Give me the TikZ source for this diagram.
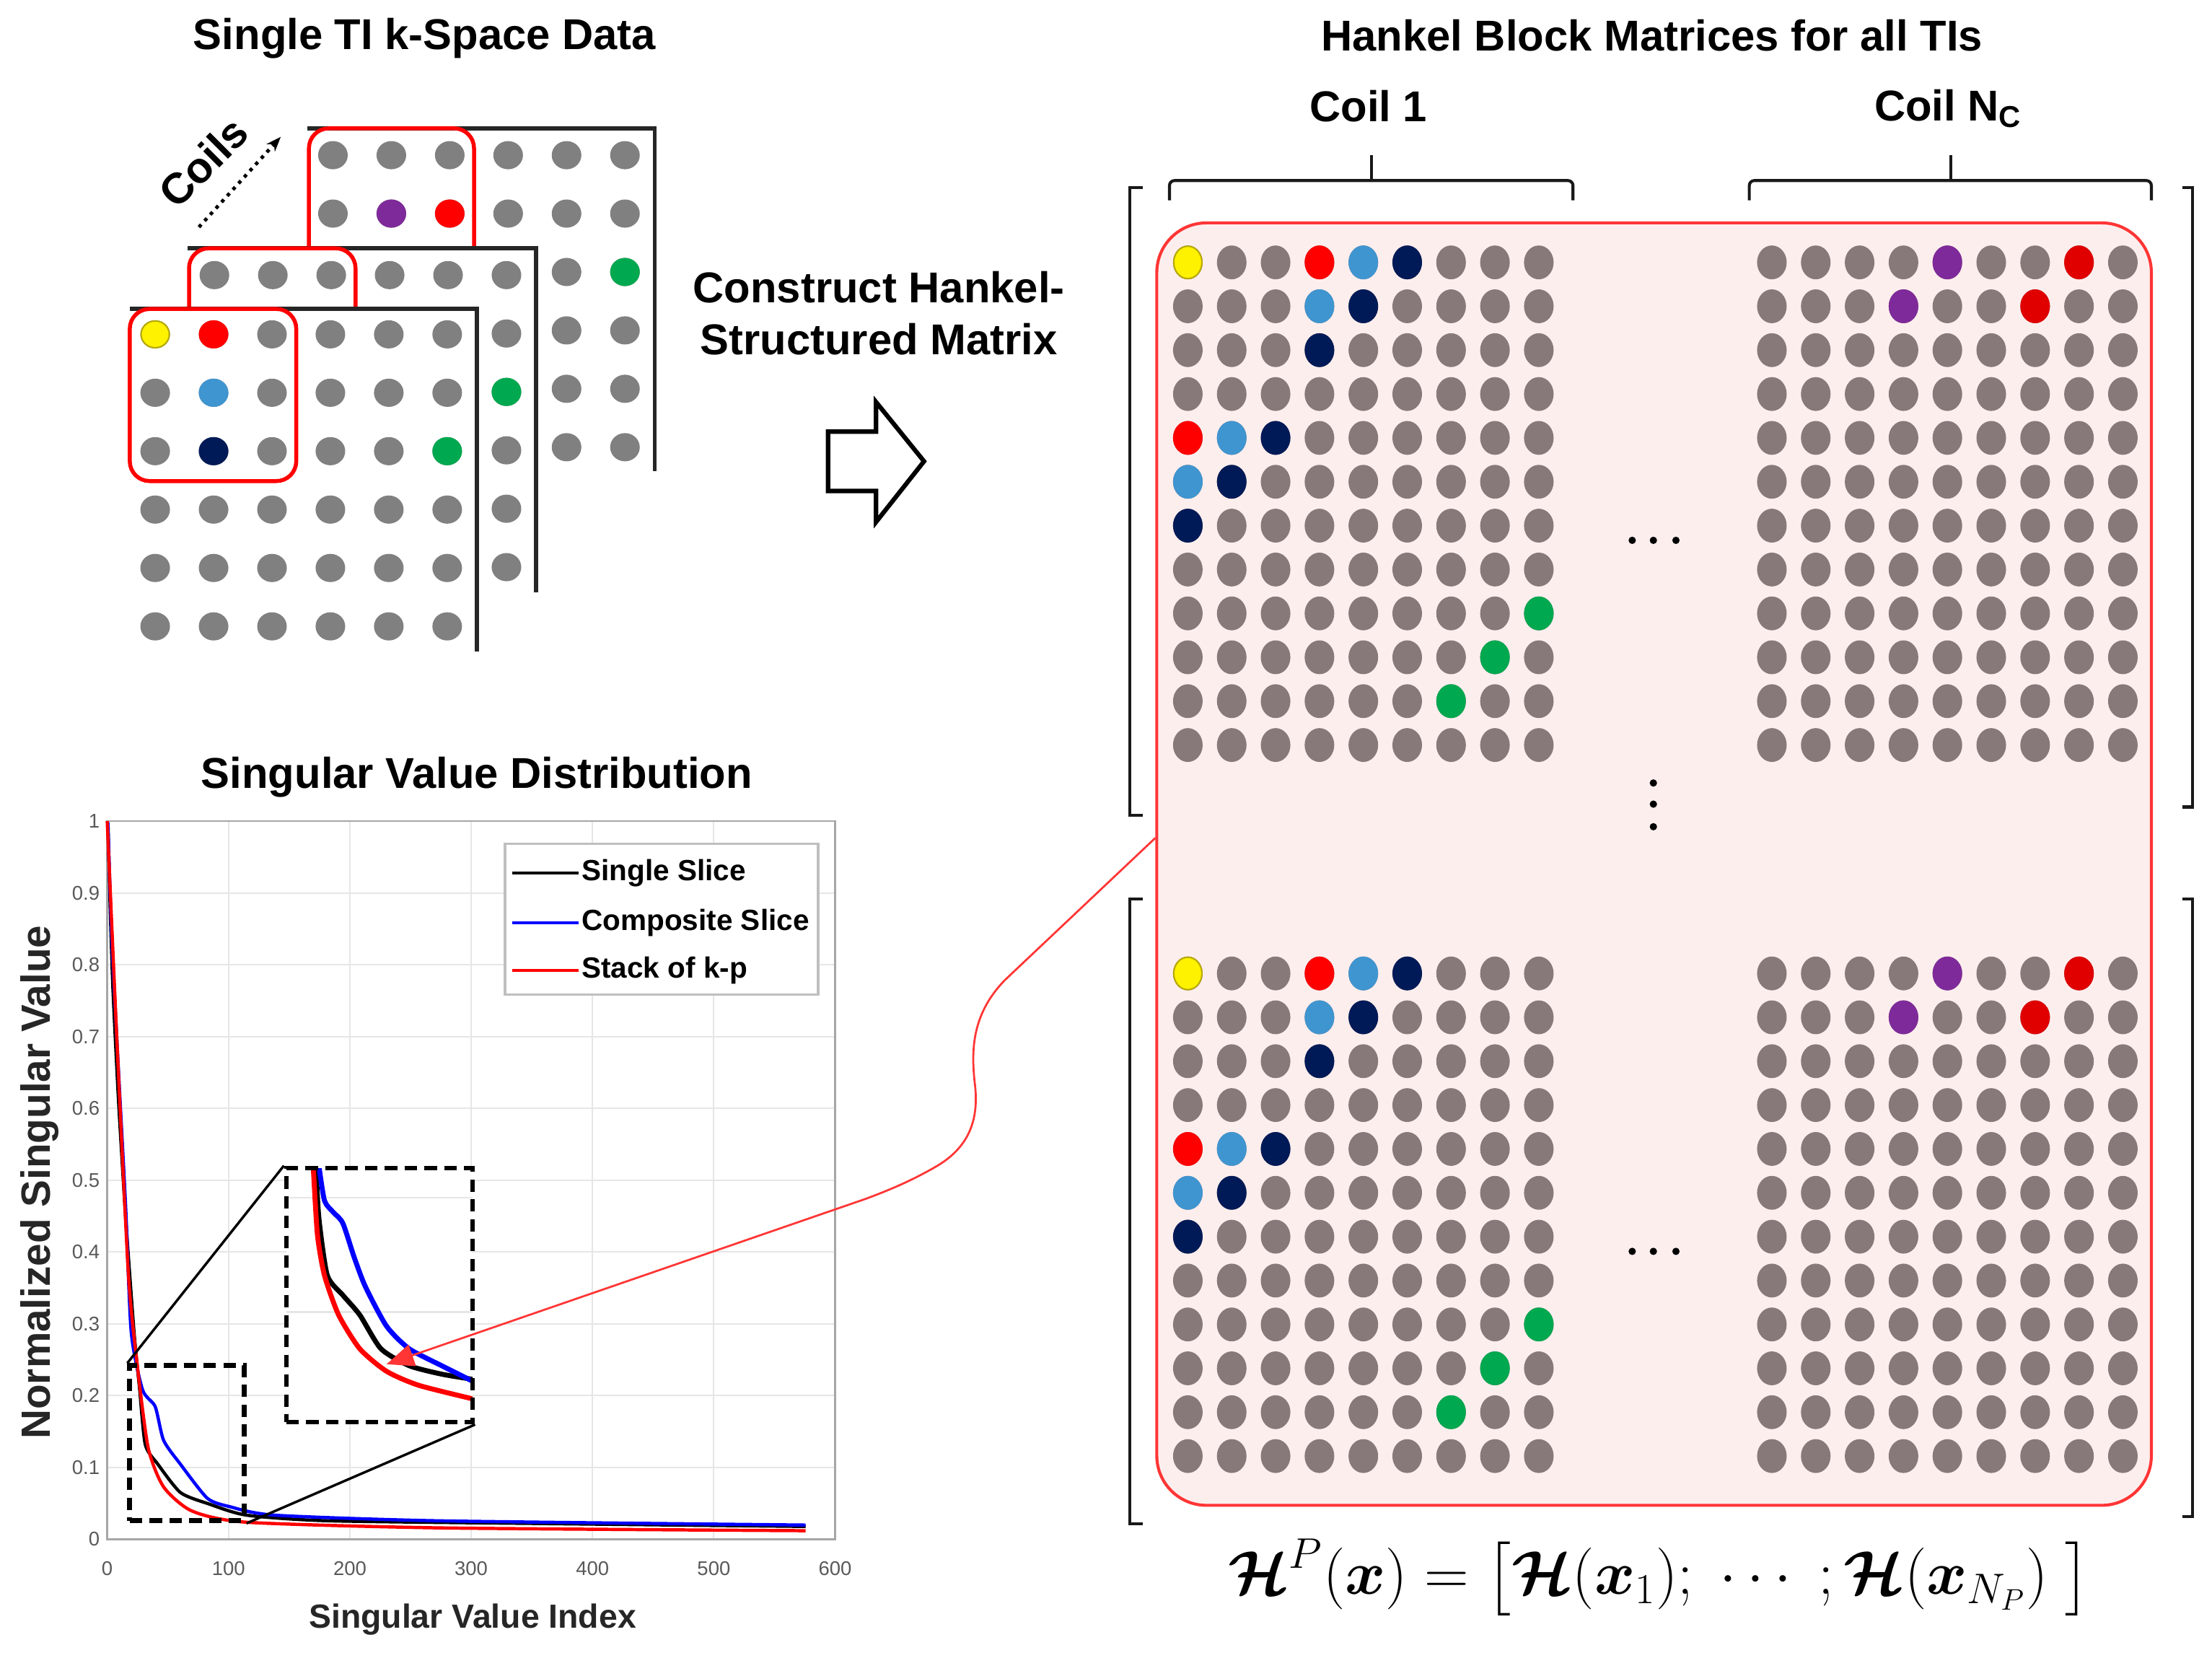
\documentclass[tikz,border=0pt]{standalone}
\usepackage[no-math]{fontspec}
\setmainfont{Liberation Sans}
\usepackage{amsmath,bm}
\usetikzlibrary{arrows.meta,fit}

\definecolor{kgrey}{HTML}{808080}
\definecolor{mgrey}{HTML}{877979}
\definecolor{dyel}{HTML}{FFF200}
\definecolor{dyelb}{HTML}{B8AA00}
\definecolor{dred}{HTML}{FF0000}
\definecolor{dblue}{HTML}{3F95D0}
\definecolor{dnavy}{HTML}{001A57}
\definecolor{dgreen}{HTML}{00A84F}
\definecolor{dpurple}{HTML}{7F2A9A}
\definecolor{mred}{HTML}{E00000}
\definecolor{hpink}{HTML}{FDEEEE}
\definecolor{hred}{HTML}{FF3535}
\definecolor{gridc}{HTML}{E6E6E6}

\newcommand{\kdot}[3]{\fill[#3] (#1,#2) ellipse [x radius=10.5, y radius=10];}
\newcommand{\mdot}[3]{\fill[#3] (#1,#2) ellipse [x radius=10.5, y radius=12];}
\newcommand{\ksheet}[6]{%
  \fill[white] (#1,#2) rectangle (#3,#4);
  \draw[sheet] (#1,#2) -- (#3,#2) -- (#3,#4);
  \foreach \i in {0,...,5} \foreach \j in {0,...,5} \kdot{#5+41.4*\i}{#6+41.4*\j}{kgrey};
}

\begin{document}
\begin{tikzpicture}[x=0.02cm, y=-0.02cm,
    head/.style={font=\fontsize{17.4}{21}\selectfont\bfseries, inner sep=0pt},
    tick/.style={font=\fontsize{8}{9}\selectfont, text=black!65, inner sep=0pt},
    legt/.style={font=\fontsize{11.8}{13}\selectfont\bfseries, inner sep=0pt, anchor=west},
    axl/.style={font=\bfseries, text=black!85, inner sep=0pt},
    sheet/.style={line width=1.6pt, black!85},
    kbox/.style={draw=red, line width=1.6pt, rounded corners=8pt},
    brk/.style={line width=1.2pt, black!90},
    zdash/.style={draw=black, line width=2pt, dash pattern=on 5pt off 3pt}]
  \useasboundingbox (0,0) rectangle (1568,1175);

  \node[head] (kt) at (301,27) {Single TI k-Space Data};
  \node[head] (ht) at (1171,25) {Hankel Block Matrices for all TIs};
  \node[head] (c1) at (970,75) {Coil 1};
  \node[head] (cn) at (1381,77) {Coil N\textsubscript{C}};
  \node[head, align=center] (cs) at (623,222) {Construct Hankel-\\Structured Matrix};
  \node[head] (svd) at (338,551) {Singular Value Distribution};
  \node[head, rotate=45] (coil) at (144,115) {Coils};

  \coordinate (ca) at (141,161);
  \coordinate (cb) at (199,97);
  \draw[dotted, line width=1.4pt, -{Stealth[length=6pt]}] (ca) -- (cb);

  \ksheet{218}{91}{464}{334}{236}{110}
  \kdot{277.4}{151.4}{dpurple}
  \kdot{318.8}{151.4}{dred}
  \kdot{443}{192.8}{dgreen}
  \draw[kbox] (219,91) rectangle (336,200);

  \ksheet{133}{176}{380}{420}{152}{195}
  \kdot{359}{277.8}{dgreen}
  \draw[kbox] (134,176) rectangle (252,250);

  \ksheet{92}{219}{338}{462}{110}{237}
  \filldraw[fill=dyel, draw=dyelb, line width=0.6pt] (110,237) ellipse [x radius=10, y radius=9.5];
  \kdot{151.4}{237}{dred}
  \kdot{151.4}{278.4}{dblue}
  \kdot{151.4}{319.8}{dnavy}
  \kdot{317}{319.8}{dgreen}
  \draw[kbox] (92,219) rectangle (210,341);

  \draw[line width=1.8pt, line join=miter] (587,306) -- (621,306) -- (621,285) -- (655,327)
    -- (621,370) -- (621,348) -- (587,348) -- cycle;

  \draw[brk] (810,133) -- (801,133) -- (801,578) -- (810,578);
  \draw[brk] (1547,133) -- (1554,133) -- (1554,572) -- (1547,572);
  \draw[brk] (810,637) -- (801,637) -- (801,1080) -- (810,1080);
  \draw[brk] (1547,637) -- (1554,637) -- (1554,1075) -- (1547,1075);

  \draw[brk, rounded corners=2pt] (829,142) -- (829,128) -- (1115,128) -- (1115,142);
  \draw[brk] (972,128) -- (972,110);
  \draw[brk, rounded corners=2pt] (1240,142) -- (1240,128) -- (1525,128) -- (1525,142);
  \draw[brk] (1383,128) -- (1383,110);

  \node[fit={(820,158) (1525,1067)}, inner sep=0pt, draw=hred, fill=hpink,
    line width=1.2pt, rounded corners=20pt] (hbox) {};

  \foreach \bx in {842,1256} \foreach \by in {186,690}
    \foreach \i in {0,...,8} \foreach \j in {0,...,11} \mdot{\bx+31.1*\i}{\by+31.1*\j}{mgrey};
  \foreach \by in {186,690} {
    \filldraw[fill=dyel, draw=dyelb, line width=0.6pt] (842,\by) ellipse [x radius=10, y radius=11.5];
    \foreach \i/\j/\c in {3/0/dred, 4/0/dblue, 5/0/dnavy, 3/1/dblue, 4/1/dnavy, 3/2/dnavy,
        0/4/dred, 1/4/dblue, 2/4/dnavy, 0/5/dblue, 1/5/dnavy, 0/6/dnavy,
        8/8/dgreen, 7/9/dgreen, 6/10/dgreen}
      \mdot{842+31.1*\i}{\by+31.1*\j}{\c};
    \foreach \i/\j/\c in {4/0/dpurple, 7/0/mred, 3/1/dpurple, 6/1/mred}
      \mdot{1256+31.1*\i}{\by+31.1*\j}{\c};
  }
  \foreach \y in {383,887} \foreach \x in {1157,1172,1188} \fill (\x,\y) circle [radius=2.6];
  \foreach \y in {555,570,586} \fill (1172,\y) circle [radius=2.6];

  \node (hp) at (1176,1118) {\fontsize{23.5}{27}\selectfont
    $\bm{\mathcal{H}}^{P}(\bm{x}) = \bigl[\bm{\mathcal{H}}(\bm{x}_1);\ \cdots\ ;\bm{\mathcal{H}}(\bm{x}_{N_P})\ \bigr]$};

  \foreach \k in {1,...,5} \draw[gridc, line width=0.6pt] (76+86*\k,582) -- (76+86*\k,1091);
  \foreach \k in {1,...,9} \draw[gridc, line width=0.6pt] (76,1091-50.9*\k) -- (592,1091-50.9*\k);
  \draw[black!35, line width=0.8pt] (76,582) rectangle (592,1091);
  \foreach \k/\t in {0/0, 1/0.1, 2/0.2, 3/0.3, 4/0.4, 5/0.5, 6/0.6, 7/0.7, 8/0.8, 9/0.9, 10/1}
    \node[tick, anchor=east] (yt\k) at (71,1091-50.9*\k) {\t};
  \foreach \k/\t in {0/0, 1/100, 2/200, 3/300, 4/400, 5/500, 6/600}
    \node[tick] (xt\k) at (76+86*\k,1112) {\t};
  \node[axl, font=\fontsize{16.5}{18}\selectfont\bfseries, rotate=90] (ylab) at (28,838) {Normalized Singular Value};
  \node[axl, font=\fontsize{13.5}{15}\selectfont\bfseries] (xlab) at (335,1148) {Singular Value Index};

  \node[fit={(358,598) (580,705)}, inner sep=0pt, draw=black!25, fill=white, line width=1pt] (leg) {};
  \draw[black, line width=1.2pt] (363,619) -- (410,619);
  \node[legt] (l1) at (412,619) {Single Slice};
  \draw[blue, line width=1.2pt] (363,654) -- (410,654);
  \node[legt] (l2) at (412,654) {Composite Slice};
  \draw[red, line width=1.2pt] (363,688) -- (410,688);
  \node[legt] (l3) at (412,688) {Stack of k-p};

  \draw[black, line width=1.3pt, line join=round] plot[smooth, tension=0.4] coordinates {(76.5,583) (78,640) (80,700)
    (84,780) (89,862) (95,944) (99,985) (103,1024) (112,1038) (128,1058) (148,1066) (175,1074) (234,1078) (390,1080) (571,1082)};
  \draw[blue, line width=1.3pt, line join=round] plot[smooth, tension=0.4] coordinates {(76.5,583) (79,660) (83,740)
    (89,854) (93,944) (101,985) (110,997) (116,1021) (128,1038) (147,1062) (163,1068) (195,1074) (312,1078) (571,1081)};
  \draw[red, line width=1.3pt, line join=round] plot[smooth, tension=0.4] coordinates {(76,582) (83,740) (91,903)
    (97,965) (105,1026) (116,1054) (136,1071) (175,1079) (312,1083) (571,1085)};

  \node[fit={(92,968) (173,1078)}, inner sep=0pt, zdash] (zbox) {};
  \fill[white] (203,828) rectangle (335,1008);
  \begin{scope}
    \clip (203,828) rectangle (335,1008);
    \draw[gridc, line width=0.8pt] (203,849) -- (335,849);
    \draw[gridc, line width=0.8pt] (203,930) -- (335,930);
    \draw[black, line width=2pt] plot[smooth, tension=0.4] coordinates {(224,826) (226,863) (232,904) (243,918)
      (255,932) (270,956) (290,968) (313,974) (337,978)};
    \draw[blue, line width=2pt] plot[smooth, tension=0.4] coordinates {(226,826) (230,851) (236,859) (243,867)
      (251,891) (259,912) (274,940) (290,956) (313,968) (337,980)};
    \draw[red, line width=2pt] plot[smooth, tension=0.4] coordinates {(222,826) (225,875) (230,904) (240,932)
      (255,956) (274,972) (297,982) (337,992)};
  \end{scope}
  \node[fit={(203,828) (335,1008)}, inner sep=0pt, zdash] (inset) {};
  \draw[line width=1pt] (zbox.north west) -- (inset.north west);
  \draw[line width=1pt] (zbox.south east) -- (inset.south east);

  \coordinate (rtip) at (274,967);
  \draw[hred, line width=0.8pt, -{Triangle[length=11pt, width=9pt]}] (hbox.177.5) -- (712,695)
    .. controls (690,718) and (688,742) .. (691,768)
    .. controls (694,792) and (688,812) .. (665,826)
    .. controls (648,836) and (632,843) .. (613,850) -- (rtip);
\end{tikzpicture}
\end{document}
